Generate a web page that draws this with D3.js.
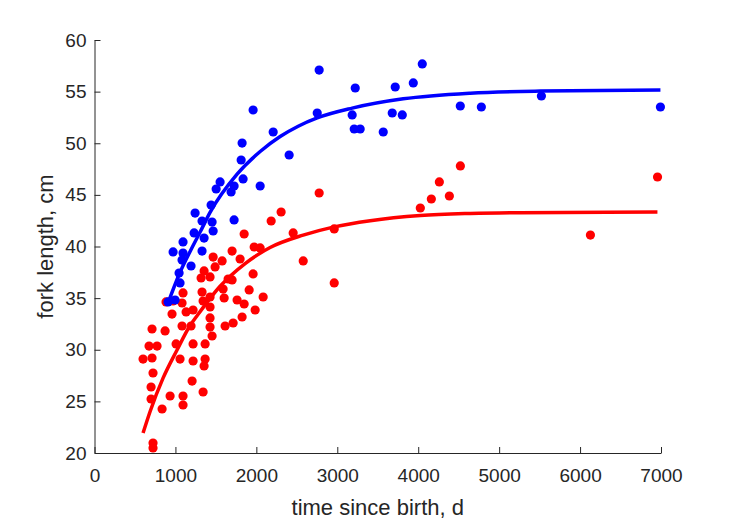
<!DOCTYPE html>
<html><head><meta charset="utf-8">
<script src="https://cdn.jsdelivr.net/npm/d3@7"></script>
<style>body{margin:0;background:#fff;}svg{display:block;}</style>
</head><body>
<script>
// Scatter data: [time since birth (d), fork length (cm)]
const blueT = [909,996,1057,1045,971,1094,1094,1082,1193,1231,1243,1329,1354,1329,1441,1453,1466,1503,1552,1688,1725,1725,1836,1812,1824,1960,2047,2208,2405,2752,2776,3184,3209,3283,3222,3568,3679,3716,3803,3939,4050,4520,4780,5522,6993];
const blueL = [34.63,34.82,36.47,37.43,39.47,40.44,39.37,38.69,38.11,41.31,43.24,42.47,40.82,39.56,44.02,42.37,41.5,45.57,46.25,45.28,45.86,42.57,46.54,48.38,50.02,53.22,45.86,51.09,48.86,52.93,57.09,52.74,51.38,51.38,55.35,51.09,52.93,55.45,52.74,55.84,57.68,53.61,53.51,54.58,53.51];
const redT = [600,674,711,711,699,699,723,723,723,773,835,872,884,934,958,971,1008,1057,1082,1082,1094,1094,1094,1132,1193,1206,1218,1218,1218,1342,1354,1367,1367,1317,1342,1354,1329,1428,1428,1428,1428,1428,1453,1466,1490,1577,1589,1602,1614,1651,1700,1700,1713,1762,1799,1824,1849,1849,1911,1960,1973,1985,2047,2084,2183,2306,2455,2579,2776,2962,2962,4026,4162,4261,4385,4521,6128,6957];
const redL = [29.1,30.36,29.2,32.01,26.39,25.23,27.75,20.97,20.49,30.36,24.26,31.82,34.63,25.52,33.46,34.72,30.56,29.1,34.53,32.3,35.5,25.52,24.65,33.66,32.3,26.97,33.85,30.56,28.91,25.91,28.43,30.56,29.1,36.95,34.72,37.63,35.59,37.05,35.11,34.14,33.08,32.2,31.33,38.98,38.02,38.6,35.88,35.01,32.3,36.85,36.76,39.56,32.59,34.82,38.79,33.17,41.21,34.43,35.79,37.34,39.95,33.85,39.86,35.11,42.47,43.34,41.31,38.6,45.18,41.7,36.47,43.73,44.6,46.25,44.89,47.8,41.11,46.73];
// Fitted growth curves
const blueCurveT = [909,1057,1206,1305,1428,1762,2047,2294,2517,2752,3184,3815,4643,5509,6993];
const blueCurveL = [34.53,37.5,39.9,41.4,43.3,47.0,49.2,50.65,51.65,52.45,53.4,54.3,54.85,55.05,55.15];
const redCurveT = [600,686,847,1020,1181,1268,1552,1861,2170,2578,2962,3407,4026,4644,5262,6956];
const redCurveL = [21.94,24.0,27.25,29.98,32.35,33.3,36.15,38.35,39.9,41.1,41.9,42.5,43.0,43.2,43.28,43.33];
const xTicks = [0,1000,2000,3000,4000,5000,6000,7000];
const yTicks = [20,25,30,35,40,45,50,55,60];

const W = 729, H = 521;
const ml = 94.5, mr = 661, mt = 40, mb = 453;
const ink = "#262626";
const svg = d3.select("body").append("svg").attr("width", W).attr("height", H)
  .style("font-family", "'Liberation Sans', Arial, Helvetica, sans-serif");
const x = d3.scaleLinear().domain([0, 7000]).range([ml, mr]);
const y = d3.scaleLinear().domain([20, 60]).range([mb, mt]);

const xAxis = svg.append("g").attr("transform", `translate(0,${mb})`)
  .call(d3.axisBottom(x).tickValues(xTicks).tickSizeInner(-6).tickSizeOuter(0).tickPadding(16).tickFormat(d3.format("d")));
const yAxis = svg.append("g").attr("transform", `translate(${ml},0)`)
  .call(d3.axisLeft(y).tickValues(yTicks).tickSizeInner(-6).tickSizeOuter(0).tickPadding(8).tickFormat(d3.format("d")));
[xAxis, yAxis].forEach(g => {
  g.select(".domain").attr("stroke", ink).attr("stroke-width", 1);
  g.selectAll(".tick line").attr("stroke", ink);
  g.selectAll(".tick text").attr("fill", ink).attr("font-size", 19).attr("font-family", null);
});

const redPts = redT.map((t, i) => [t, redL[i]]);
const bluePts = blueT.map((t, i) => [t, blueL[i]]);
svg.append("g").selectAll("circle").data(redPts).join("circle")
  .attr("cx", d => x(d[0])).attr("cy", d => y(d[1])).attr("r", 4.6).attr("fill", "#ff0000");
svg.append("g").selectAll("circle").data(bluePts).join("circle")
  .attr("cx", d => x(d[0])).attr("cy", d => y(d[1])).attr("r", 4.6).attr("fill", "#0000ff");

const line = d3.line().x(d => x(d[0])).y(d => y(d[1])).curve(d3.curveMonotoneX);
svg.append("path").datum(redCurveT.map((t, i) => [t, redCurveL[i]]))
  .attr("d", line).attr("fill", "none").attr("stroke", "#ff0000").attr("stroke-width", 3.5);
svg.append("path").datum(blueCurveT.map((t, i) => [t, blueCurveL[i]]))
  .attr("d", line).attr("fill", "none").attr("stroke", "#0000ff").attr("stroke-width", 3.5);

svg.append("text").attr("x", (ml + mr) / 2).attr("y", 515).attr("text-anchor", "middle")
  .attr("fill", ink).attr("font-size", 22).text("time since birth, d");
svg.append("text").attr("transform", `translate(53,${(mt + mb) / 2}) rotate(-90)`).attr("text-anchor", "middle")
  .attr("fill", ink).attr("font-size", 22).text("fork length, cm");
</script>
</body></html>
